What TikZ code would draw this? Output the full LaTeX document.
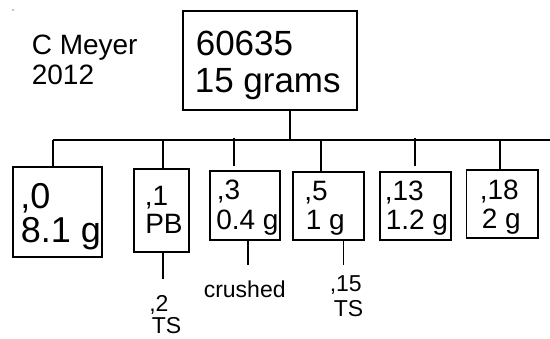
\documentclass[tikz,border=0pt]{standalone}
\usepackage{fontspec}
\setmainfont{Liberation Sans}
\usetikzlibrary{calc}
\begin{document}
\begin{tikzpicture}[x=1pt, y=-1pt, line width=1.6pt,
  frame/.style={draw, inner sep=0pt, line width=1.6pt},
  txt/.style={anchor=base west, inner sep=0pt, font=\fontsize{#1}{#1}\selectfont}]
\useasboundingbox (0,0) rectangle (550,339);

% stray mark in the corner
\fill (13,10) circle (0.7);

% author line
\node[txt=28] (auth1) at (31,55) {C Meyer};
\node[txt=28] (auth2) at (31,85) {2012};

% parent sample
\node[frame, minimum width=174pt, minimum height=99pt] (T) at (270,60.5) {};
\node[txt=35] (T1) at (195,56) {60635};
\node[txt=35] (T2) at (194,92.5) {15 grams};

% child boxes
\node[frame, minimum width=89pt, minimum height=90pt] (B0) at (57.5,212) {};
\node[txt=36] (B0a) at (19.5,209) {,0};
\node[txt=36] (B0b) at (20,243) {8.1 g};

\node[frame, minimum width=55pt, minimum height=83pt] (B1) at (161.5,210.5) {};
\node[txt=28] (B1a) at (144,206) {,1};
\node[txt=28] (B1b) at (144.5,234) {PB};

\node[frame, minimum width=70pt, minimum height=69pt] (B3) at (245,205.5) {};
\node[txt=28] (B3a) at (216,200) {,3};
\node[txt=28] (B3b) at (215.5,230) {0.4 g};

\node[frame, minimum width=71pt, minimum height=68pt] (B5) at (328.5,206) {};
\node[txt=28] (B5a) at (303.5,201) {,5};
\node[txt=28] (B5b) at (305,230) {1 g};

\node[frame, minimum width=71pt, minimum height=68pt] (B13) at (415.5,206) {};
\node[txt=28] (B13a) at (384,201) {,13};
\node[txt=28] (B13b) at (385,230) {1.2 g};

\node[frame, minimum width=71.5pt, minimum height=68pt] (B18) at (502.25,204) {};
\node[txt=28] (B18a) at (479,200) {,18};
\node[txt=28] (B18b) at (481,229) {2 g};

% labels below the boxes
\node[txt=23] (L2a) at (148.5,312) {,2};
\node[txt=23] (L2b) at (151,334) {TS};
\node[txt=23] (Lcr) at (203,298) {crushed};
\node[txt=23] (L15a) at (329,291.5) {,15};
\node[txt=23] (L15b) at (333,316.5) {TS};

% bus line and drops
\coordinate (busL) at (53,140);
\coordinate (busR) at (550,140);
\coordinate (tdrop) at (290,140);
\coordinate (d0) at (53,140);
\coordinate (d1) at (163,140);
\coordinate (d3) at (234,138);
\coordinate (d5) at (321,140);
\coordinate (d13) at (415,138);
\coordinate (d18) at (500,140);

\draw (busL) -- (busR);
\draw (tdrop |- T.south) -- (tdrop);
\draw (d0) -- (d0 |- B0.north);
\draw (d1) -- (d1 |- B1.north);
\draw (d3) -- ($(d3 |- B3.north)+(0,-4)$);
\draw (d5) -- (d5 |- B5.north);
\draw (d13) -- ($(d13 |- B13.north)+(0,-5)$);
\draw (d18) -- (d18 |- B18.north);

% lower connectors
\coordinate (e1) at (163,279);
\coordinate (e3) at (248,265);
\coordinate (e5) at (343.5,265);
\draw (e1 |- B1.south) -- (e1);
\draw (e3 |- B3.south) -- (e3);
\draw (e5 |- B5.south) -- (e5);
\end{tikzpicture}
\end{document}
